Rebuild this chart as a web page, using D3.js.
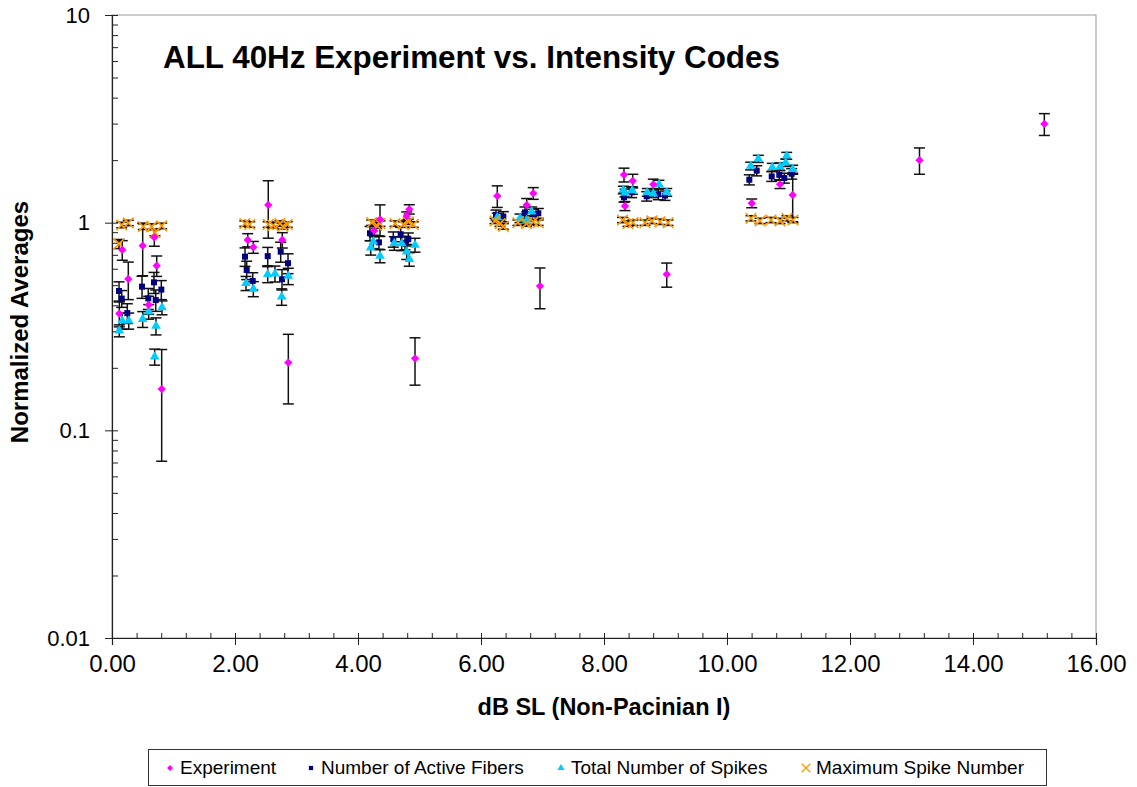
<!DOCTYPE html>
<html>
<head>
<meta charset="utf-8">
<script src="https://cdn.jsdelivr.net/npm/d3@7"></script>
<style>
  html, body { margin: 0; padding: 0; background: #fff; }
  svg { display: block; font-family: "Liberation Sans", Arial, sans-serif; }
</style>
</head>
<body>
<svg id="chart" width="1137" height="787"></svg>
<script>
// ---------------- DATA ----------------
const title = "ALL 40Hz Experiment vs. Intensity Codes";
const xTitle = "dB SL (Non-Pacinian I)";
const yTitle = "Normalized Averages";
const xTicks = [0, 2, 4, 6, 8, 10, 12, 14, 16];
const yTicks = [0.01, 0.1, 1, 10];
const seriesNames = ["Experiment", "Number of Active Fibers", "Total Number of Spikes", "Maximum Spike Number"];

// Experiment
const expX   = [0.119, 0.167, 0.265, 0.499, 0.597, 0.688, 0.727, 0.808,
                2.207, 2.298, 2.541, 2.769, 2.867,
                4.265, 4.358, 4.792, 4.834, 4.927,
                6.265, 6.743, 6.850, 6.959,
                8.325, 8.341, 8.467, 8.802, 9.020,
                10.402, 10.862, 11.068,
                13.13, 15.16];
const expY   = [0.365, 0.739, 0.536, 0.775, 0.402, 0.850, 0.621, 0.158,
                0.825, 0.762, 1.217, 0.825, 0.212,
                0.915, 1.038, 1.077, 1.160, 0.222,
                1.344, 1.217, 1.385, 0.495,
                1.700, 1.203, 1.590, 1.530, 0.564,
                1.240, 1.530, 1.360,
                2.000, 2.990];
const expErr = [0.05, 0.08, 0.11, 0.22, 0.04, 0.08, 0.07, 0.087,
                0.06, 0.05, 0.375, 0.07, 0.078,
                0.06, 0.18, 0.05, 0.06, 0.057,
                0.16, 0.09, 0.09, 0.11,
                0.13, 0.06, 0.12, 0.09, 0.075,
                0.06, 0.07, 0.35,
                0.29, 0.36];

// Number of Active Fibers
const fibX   = [0.114, 0.158, 0.249, 0.488, 0.590, 0.683, 0.711, 0.802,
                2.163, 2.190, 2.288, 2.532, 2.743, 2.862, 2.764,
                4.195, 4.341, 4.574, 4.694, 4.818, 4.764,
                6.244, 6.363, 6.715, 6.850, 6.932,
                8.325, 8.450, 8.694, 8.883, 8.992,
                10.363, 10.483, 10.727, 10.850, 10.932, 11.052];
const fibY   = [0.469, 0.431, 0.367, 0.492, 0.432, 0.516, 0.424, 0.476,
                0.686, 0.592, 0.524, 0.690, 0.725, 0.638, 0.534,
                0.889, 0.804, 0.832, 0.879, 0.832, 0.800,
                1.09, 1.07, 1.12, 1.10, 1.11,
                1.325, 1.40, 1.34, 1.37, 1.35,
                1.61, 1.78, 1.67, 1.70, 1.64, 1.72];
const fibErr = [0.05, 0.04, 0.04, 0.06, 0.05, 0.06, 0.05, 0.05,
                0.07, 0.06, 0.05, 0.07, 0.08, 0.07, 0.06,
                0.07, 0.06, 0.07, 0.07, 0.06, 0.06,
                0.06, 0.06, 0.07, 0.06, 0.06,
                0.07, 0.08, 0.07, 0.08, 0.07,
                0.09, 0.10, 0.09, 0.09, 0.09, 0.10];

// Total Number of Spikes
const spkX   = [0.119, 0.167, 0.272, 0.499, 0.597, 0.715, 0.813, 0.694,
                2.179, 2.298, 2.532, 2.650, 2.867, 2.759,
                4.249, 4.207, 4.358, 4.590, 4.711, 4.792, 4.927, 4.834,
                6.265, 6.634, 6.824, 6.743,
                8.314, 8.341, 8.460, 8.704, 8.802, 8.894, 9.020,
                10.509, 10.385, 10.737, 10.862, 10.971, 10.954, 11.068];
const spkY   = [0.302, 0.337, 0.337, 0.343, 0.373, 0.318, 0.390, 0.226,
                0.511, 0.480, 0.564, 0.568, 0.553, 0.440,
                0.810, 0.758, 0.691, 0.796, 0.793, 0.725, 0.781, 0.667,
                1.06, 1.05, 1.13, 1.03,
                1.437, 1.39, 1.43, 1.40, 1.38, 1.53, 1.40,
                2.03, 1.875, 1.85, 1.86, 2.10, 1.945, 1.81];
const spkErr = [0.02, 0.03, 0.03, 0.03, 0.03, 0.03, 0.03, 0.02,
                0.04, 0.04, 0.05, 0.05, 0.05, 0.04,
                0.06, 0.06, 0.05, 0.06, 0.06, 0.06, 0.06, 0.05,
                0.05, 0.05, 0.06, 0.05,
                0.06, 0.06, 0.06, 0.06, 0.06, 0.07, 0.06,
                0.08, 0.08, 0.08, 0.08, 0.08, 0.08, 0.08];

// Maximum Spike Number
const maxX   = [0.114, 0.158, 0.265, 0.509, 0.646, 0.699, 0.808,
                2.16, 2.24, 2.54, 2.62, 2.73, 2.85, 2.78,
                4.223, 4.304, 4.358, 4.602, 4.737, 4.818, 4.899,
                6.228, 6.309, 6.363, 6.60, 6.74, 6.85, 6.93,
                8.301, 8.390, 8.472, 8.667, 8.780, 8.911, 9.041,
                10.390, 10.537, 10.715, 10.862, 10.976, 11.073];
const maxY   = [0.790, 0.975, 0.997, 0.957, 0.957, 0.895, 0.965,
                0.99, 0.98, 0.98, 0.97, 0.99, 0.98, 0.96,
                1.00, 0.97, 0.99, 0.99, 0.98, 1.01, 0.98,
                1.02, 0.99, 0.96, 1.00, 0.99, 1.01, 1.00,
                1.03, 0.99, 1.00, 1.00, 1.02, 1.01, 1.00,
                1.05, 1.02, 1.03, 1.02, 1.05, 1.03];
const maxErr = [0.04, 0.03, 0.03, 0.03, 0.03, 0.03, 0.03,
                0.03, 0.03, 0.03, 0.03, 0.03, 0.03, 0.03,
                0.03, 0.03, 0.03, 0.03, 0.03, 0.03, 0.03,
                0.03, 0.03, 0.03, 0.03, 0.03, 0.03, 0.03,
                0.03, 0.03, 0.03, 0.03, 0.03, 0.03, 0.03,
                0.03, 0.03, 0.03, 0.03, 0.03, 0.03];

// ---------------- CHART ----------------
const svg = d3.select("#chart");
const W = 1137, H = 787;
const plot = { left: 112, right: 1096, top: 15, bottom: 638 };

const x = d3.scaleLinear().domain([0, 16]).range([plot.left, plot.right]);
const y = d3.scaleLog().domain([0.01, 10]).range([plot.bottom, plot.top]);

svg.append("rect").attr("width", W).attr("height", H).attr("fill", "#fff");

// plot border (light)
svg.append("rect")
  .attr("x", plot.left).attr("y", plot.top)
  .attr("width", plot.right - plot.left).attr("height", plot.bottom - plot.top)
  .attr("fill", "none").attr("stroke", "#999").attr("stroke-width", 1);

// X axis
const xMinor = d3.range(0, 16.0001, 0.4);
const xAxisG = svg.append("g").attr("transform", `translate(0,${plot.bottom})`);
xAxisG.append("g")
  .call(d3.axisBottom(x).tickValues(xMinor).tickSize(-5).tickFormat(""))
  .call(g => g.select(".domain").remove())
  .call(g => g.selectAll("line").attr("stroke", "#222"));
xAxisG.append("g")
  .call(d3.axisBottom(x).tickValues(xTicks).tickSize(7).tickPadding(10)
        .tickFormat(d3.format(".2f")))
  .call(g => g.select(".domain").attr("stroke", "#222").attr("stroke-width", 1.2))
  .call(g => g.selectAll("line").attr("stroke", "#222"))
  .call(g => g.selectAll("text").attr("font-size", 24).attr("fill", "#000")
        .attr("font-family", "Liberation Sans, Arial, sans-serif"));

// Y axis
const yMinor = [];
[0.01, 0.1, 1].forEach(d => { for (let k = 2; k <= 9; k++) yMinor.push(d * k); });
const yAxisG = svg.append("g").attr("transform", `translate(${plot.left},0)`);
yAxisG.append("g")
  .call(d3.axisLeft(y).tickValues(yMinor).tickSize(-6).tickFormat(""))
  .call(g => g.select(".domain").remove())
  .call(g => g.selectAll("line").attr("stroke", "#222"));
yAxisG.append("g")
  .call(d3.axisLeft(y).tickValues(yTicks).tickSize(7).tickPadding(15)
        .tickFormat(d => String(d)))
  .call(g => g.select(".domain").attr("stroke", "#222").attr("stroke-width", 1.2))
  .call(g => g.selectAll(".tick line").attr("x2", -7).attr("x1", 6).attr("stroke", "#222"))
  .call(g => g.selectAll("text").attr("font-size", 22).attr("fill", "#000")
        .attr("font-family", "Liberation Sans, Arial, sans-serif"));

// Titles
svg.append("text").attr("x", 163).attr("y", 68)
  .attr("font-size", 31.4).attr("font-weight", "bold").text(title);
svg.append("text").attr("x", 604).attr("y", 715)
  .attr("text-anchor", "middle").attr("font-size", 23.5).attr("font-weight", "bold").text(xTitle);
svg.append("text")
  .attr("transform", `translate(28,${322}) rotate(-90)`)
  .attr("text-anchor", "middle").attr("font-size", 24).attr("font-weight", "bold").text(yTitle);

// Series
const symbols = {
  diamond: d3.symbol().type(d3.symbolDiamond2).size(44),
  square: d3.symbol().type(d3.symbolSquare).size(36),
  triangle: d3.symbol().type(d3.symbolTriangle).size(40),
  cross: d3.symbol().type(d3.symbolX).size(75)
};
const series = [
  { name: seriesNames[1], xs: fibX, ys: fibY, es: fibErr, sym: "square", fill: "#000080", stroke: "none" },
  { name: seriesNames[2], xs: spkX, ys: spkY, es: spkErr, sym: "triangle", fill: "#00CCFF", stroke: "none" },
  { name: seriesNames[3], xs: maxX, ys: maxY, es: maxErr, sym: "cross", fill: "none", stroke: "#FF9900" },
  { name: seriesNames[0], xs: expX, ys: expY, es: expErr, sym: "diamond", fill: "#FF00FF", stroke: "none" }
];

const plotG = svg.append("g");
series.forEach(s => {
  const pts = s.xs.map((xv, i) => ({ x: xv, y: s.ys[i], e: s.es[i] }));
  const eg = plotG.append("g").attr("stroke", "#111").attr("stroke-width", 1.5).attr("fill", "none");
  pts.forEach(p => {
    const cx = x(p.x), hi = y(p.y + p.e), lo = y(Math.max(p.y - p.e, 0.0101));
    eg.append("line").attr("x1", cx).attr("x2", cx).attr("y1", hi).attr("y2", lo);
    eg.append("line").attr("x1", cx - 5.5).attr("x2", cx + 5.5).attr("y1", hi).attr("y2", hi);
    eg.append("line").attr("x1", cx - 5.5).attr("x2", cx + 5.5).attr("y1", lo).attr("y2", lo);
  });
});
series.forEach(s => {
  const pts = s.xs.map((xv, i) => ({ x: xv, y: s.ys[i] }));
  plotG.append("g").selectAll("path").data(pts).join("path")
    .attr("transform", d => `translate(${x(d.x)},${y(d.y)})`)
    .attr("d", symbols[s.sym])
    .attr("fill", s.fill)
    .attr("stroke", s.stroke)
    .attr("stroke-width", s.sym === "cross" ? 1.6 : 0);
});

// Legend
const leg = svg.append("g");
leg.append("rect").attr("x", 148.5).attr("y", 749.5).attr("width", 898).attr("height", 36)
  .attr("fill", "#fff").attr("stroke", "#333").attr("stroke-width", 1);
const legItems = [
  { name: seriesNames[0], sym: "diamond", fill: "#FF00FF", stroke: "none", mx: 170 },
  { name: seriesNames[1], sym: "square", fill: "#000080", stroke: "none", mx: 311 },
  { name: seriesNames[2], sym: "triangle", fill: "#00CCFF", stroke: "none", mx: 561 },
  { name: seriesNames[3], sym: "cross", fill: "none", stroke: "#FF9900", mx: 806 }
];
const legSym = {
  diamond: d3.symbol().type(d3.symbolDiamond2).size(22),
  square: d3.symbol().type(d3.symbolSquare).size(18),
  triangle: d3.symbol().type(d3.symbolTriangle).size(22),
  cross: d3.symbol().type(d3.symbolX).size(50)
};
legItems.forEach(it => {
  leg.append("path").attr("transform", `translate(${it.mx},${768})`)
    .attr("d", legSym[it.sym]).attr("fill", it.fill).attr("stroke", it.stroke)
    .attr("stroke-width", it.sym === "cross" ? 1.3 : 0);
  leg.append("text").attr("x", it.mx + 10).attr("y", 774)
    .attr("font-size", 19).attr("fill", "#000").text(it.name);
});
</script>
</body>
</html>
